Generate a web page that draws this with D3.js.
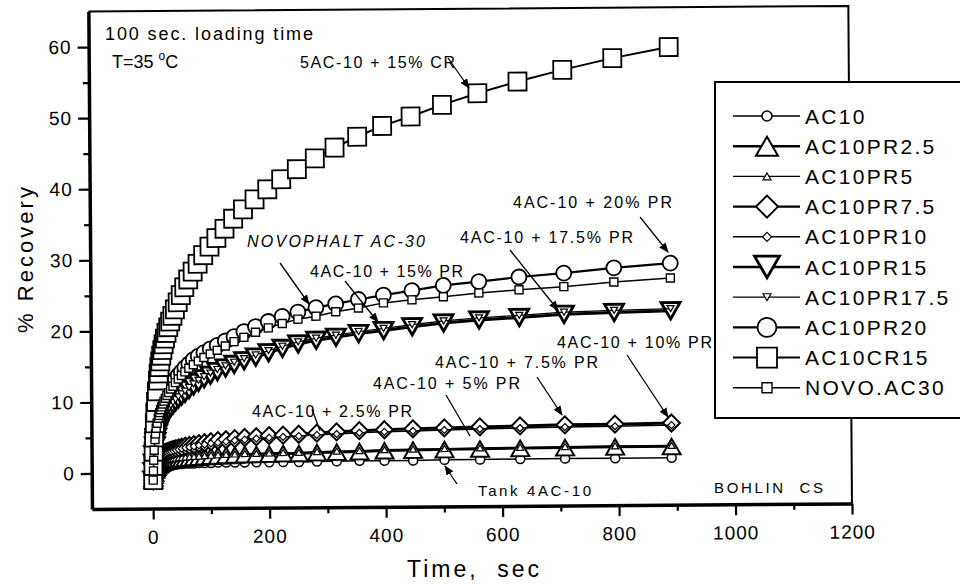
<!DOCTYPE html>
<html>
<head>
<meta charset="utf-8">
<script src="https://cdn.jsdelivr.net/npm/d3@7"></script>
<style>
  body { margin: 0; background: #fff; }
  svg { font-family: "Liberation Sans", Arial, sans-serif; }
</style>
</head>
<body>
<div id="chart"></div>
<script>

// recovery time, sec (log spaced readings)
const times = [0.5, 1, 1.6, 2.5, 4, 5, 6.3, 7.9,
  10, 11.2, 12.6, 14.1, 15.8, 17.8, 20, 22.4, 25.1, 28.2,
  31.6, 35.5, 39.8, 44.7, 50.1, 56.2, 63.1, 70.8, 79.4, 89.1,
  100, 112, 126, 141, 158, 178, 200, 224, 251, 282,
  316, 355, 398, 447, 501, 562, 631, 708, 794, 891]

// % recovery per binder
const ac10 = [-1.0, -0.8, -0.5, -0.2, 0.1, 0.3, 0.45, 0.6,
  0.7, 0.75, 0.8, 0.85, 0.9, 0.95, 1.0, 1.05, 1.1, 1.1,
  1.15, 1.2, 1.2, 1.25, 1.25, 1.3, 1.3, 1.3, 1.35, 1.35,
  1.35, 1.4, 1.4, 1.4, 1.4, 1.4, 1.4, 1.4, 1.4, 1.45,
  1.45, 1.5, 1.5, 1.5, 1.55, 1.55, 1.6, 1.6, 1.6, 1.6]
const ac10pr25 = [-1.0, -0.7, -0.3, 0.0, 0.4, 0.6, 0.8, 1.0,
  1.15, 1.25, 1.35, 1.4, 1.5, 1.55, 1.6, 1.65, 1.7, 1.75,
  1.8, 1.85, 1.9, 1.95, 2.0, 2.05, 2.1, 2.15, 2.2, 2.25,
  2.3, 2.35, 2.4, 2.45, 2.5, 2.5, 2.55, 2.6, 2.6, 2.7,
  2.75, 2.8, 2.9, 2.95, 3.0, 3.05, 3.1, 3.15, 3.2, 3.2]
const ac10pr5 = [-1.0, -0.6, -0.2, 0.15, 0.55, 0.75, 0.95, 1.15,
  1.3, 1.4, 1.5, 1.55, 1.65, 1.7, 1.75, 1.8, 1.85, 1.9,
  1.95, 2.0, 2.05, 2.1, 2.15, 2.2, 2.25, 2.3, 2.35, 2.4,
  2.45, 2.5, 2.55, 2.6, 2.65, 2.65, 2.7, 2.75, 2.75, 2.85,
  2.9, 2.95, 3.05, 3.1, 3.15, 3.2, 3.25, 3.3, 3.35, 3.35]
const ac10pr75 = [-1.0, -0.5, 0.0, 0.5, 1.0, 1.3, 1.6, 1.9,
  2.1, 2.25, 2.4, 2.5, 2.6, 2.7, 2.8, 2.9, 3.0, 3.1,
  3.2, 3.3, 3.4, 3.5, 3.6, 3.75, 3.85, 3.95, 4.1, 4.2,
  4.35, 4.5, 4.6, 4.75, 4.9, 5.0, 5.15, 5.2, 5.3, 5.45,
  5.6, 5.75, 5.85, 5.95, 6.05, 6.15, 6.25, 6.35, 6.4, 6.5]
const ac10pr10 = [-1.0, -0.6, -0.1, 0.4, 0.9, 1.2, 1.5, 1.8,
  2.0, 2.1, 2.25, 2.35, 2.45, 2.55, 2.65, 2.75, 2.85, 2.95,
  3.0, 3.1, 3.2, 3.3, 3.4, 3.5, 3.6, 3.7, 3.85, 3.95,
  4.1, 4.2, 4.35, 4.5, 4.6, 4.75, 4.85, 4.95, 5.05, 5.2,
  5.3, 5.45, 5.55, 5.65, 5.75, 5.85, 5.95, 6.05, 6.1, 6.2]
const ac10pr15 = [-1.0, 0.2, 1.4, 2.6, 3.8, 4.4, 5.0, 5.6,
  6.1, 6.4, 6.7, 7.0, 7.3, 7.6, 7.9, 8.2, 8.5, 8.8,
  9.2, 9.6, 10.0, 10.4, 10.8, 11.2, 11.7, 12.2, 12.7, 13.2,
  13.7, 14.2, 14.7, 15.2, 15.7, 16.2, 16.8, 17.4, 18.0, 18.5,
  18.9, 19.4, 19.8, 20.3, 20.8, 21.2, 21.5, 21.9, 22.1, 22.3]
const ac10pr175 = [-1.0, 0.4, 1.6, 2.8, 4.0, 4.7, 5.3, 5.9,
  6.4, 6.7, 7.0, 7.3, 7.6, 7.9, 8.2, 8.5, 8.8, 9.1,
  9.5, 9.9, 10.3, 10.7, 11.1, 11.5, 12.0, 12.5, 13.0, 13.5,
  14.0, 14.5, 15.0, 15.5, 16.0, 16.5, 17.1, 17.7, 18.3, 18.8,
  19.2, 19.7, 20.1, 20.6, 21.1, 21.5, 21.8, 22.2, 22.4, 22.6]
const ac10pr20 = [-1.0, 0.5, 2.0, 3.5, 5.0, 5.8, 6.6, 7.4,
  8.1, 8.5, 8.9, 9.3, 9.7, 10.1, 10.5, 10.9, 11.3, 11.7,
  12.2, 12.7, 13.2, 13.7, 14.2, 14.8, 15.3, 15.9, 16.4, 16.9,
  17.4, 17.9, 18.5, 19.1, 19.8, 20.5, 21.2, 21.9, 22.5, 23.1,
  23.6, 24.2, 24.8, 25.4, 26.1, 26.6, 27.2, 27.7, 28.4, 29.0]
const ac10cr15 = [-1.0, 1.0, 3.0, 5.0, 7.0, 8.5, 10.0, 11.5,
  13.0, 14.0, 14.9, 15.7, 16.5, 17.3, 18.1, 18.9, 19.7, 20.5,
  21.3, 22.1, 23.0, 24.0, 25.0, 26.1, 27.2, 28.3, 29.4, 30.6,
  31.8, 33.0, 34.3, 35.7, 37.0, 38.4, 39.8, 41.2, 42.6, 44.1,
  45.6, 47.1, 48.6, 49.9, 51.5, 53.1, 54.7, 56.3, 57.9, 59.4]
const novoAc30 = [-1.0, 0.3, 1.8, 3.2, 4.7, 5.5, 6.3, 7.0,
  7.7, 8.1, 8.5, 8.9, 9.3, 9.7, 10.1, 10.5, 10.9, 11.3,
  11.8, 12.2, 12.7, 13.2, 13.7, 14.2, 14.7, 15.2, 15.7, 16.2,
  16.7, 17.2, 17.8, 18.4, 19.0, 19.7, 20.3, 20.9, 21.5, 21.9,
  22.5, 23.0, 23.7, 24.1, 24.5, 25.0, 25.4, 25.8, 26.4, 26.9]

const seriesNames = ["AC10", "AC10PR2.5", "AC10PR5", "AC10PR7.5", "AC10PR10",
  "AC10PR15", "AC10PR17.5", "AC10PR20", "AC10CR15", "NOVO.AC30"]
const seriesValues = [ac10, ac10pr25, ac10pr5, ac10pr75, ac10pr10,
  ac10pr15, ac10pr175, ac10pr20, ac10cr15, novoAc30]

const xTicks = [0, 200, 400, 600, 800, 1000, 1200]
const xMinor = [100, 300, 500, 700, 900, 1100]
const yTicks = [0, 10, 20, 30, 40, 50, 60]
const yMinor = [5, 15, 25, 35, 45, 55]

// symbol look for each series (same order as seriesNames)
const looks = [
  {shape: 'circle', size: 4.5, leg: 5, lw: 1.5, sw: 1.5},
  {shape: 'triUp', size: 9, leg: 11, lw: 2.6, sw: 2},
  {shape: 'triUp', size: 3.5, leg: 4, lw: 1.2, sw: 1.2},
  {shape: 'diamond', size: 8.5, leg: 11, lw: 3, sw: 2},
  {shape: 'diamond', size: 3.5, leg: 4.5, lw: 1.4, sw: 1.2},
  {shape: 'triDown', size: 9.5, leg: 12.5, lw: 3, sw: 2.8},
  {shape: 'triDown', size: 3.5, leg: 4, lw: 1.2, sw: 1.2},
  {shape: 'circle', size: 7.5, leg: 9.5, lw: 2.2, sw: 1.8},
  {shape: 'square', size: 9, leg: 10, lw: 2, sw: 1.8},
  {shape: 'square', size: 4, leg: 5, lw: 1.5, sw: 1.4}
]

function symbolPath(shape, s) {
  const h = s * 0.866
  if (shape == 'circle') return `M${-s},0a${s},${s} 0 1,0 ${2*s},0a${s},${s} 0 1,0 ${-2*s},0z`
  if (shape == 'square') return `M${-s},${-s}h${2*s}v${2*s}h${-2*s}z`
  if (shape == 'diamond') return `M0,${-s}L${s},0L0,${s}L${-s},0z`
  if (shape == 'triUp') return `M0,${-h}L${s},${h}L${-s},${h}z`
  return `M0,${h}L${s},${-h}L${-s},${-h}z`
}

const svg = d3.select('#chart')
  .append('svg')
  .attr('width', 960)
  .attr('height', 584)

svg.append('defs').append('marker')
  .attr('id', 'arr')
  .attr('markerUnits', 'userSpaceOnUse')
  .attr('markerWidth', 10).attr('markerHeight', 8)
  .attr('refX', 9).attr('refY', 4)
  .attr('orient', 'auto')
  .append('path')
  .attr('d', 'M0,0 L10,4 L0,8 z')
  .attr('fill', '#000')

// the scan is slightly tilted, so the plot group is too
const plot = svg.append('g')
  .attr('transform', 'rotate(-0.42,92,509)')

const x = d3.scaleLinear().domain([-105, 1200]).range([92, 852])
const y = d3.scaleLinear().domain([-5, 65]).range([509, 11.5])

// top and right frame
plot.append('path')
  .attr('d', `M92,11.5 H852 V509`)
  .attr('fill', 'none').attr('stroke', '#000').attr('stroke-width', 2)

const xAxis = plot.append('g')
  .attr('transform', 'translate(0,509)')
  .call(d3.axisBottom(x).tickValues(xTicks).tickFormat(d3.format('d'))
    .tickSize(11).tickSizeOuter(0).tickPadding(6))
plot.append('g')
  .attr('transform', 'translate(0,509)')
  .call(d3.axisBottom(x).tickValues(xMinor).tickSize(6).tickFormat(''))
  .select('.domain').remove()

const yAxis = plot.append('g')
  .attr('transform', 'translate(92,0)')
  .call(d3.axisLeft(y).tickValues(yTicks).tickFormat(d3.format('d'))
    .tickSize(11).tickSizeOuter(0).tickPadding(6))
plot.append('g')
  .attr('transform', 'translate(92,0)')
  .call(d3.axisLeft(y).tickValues(yMinor).tickSize(6).tickFormat(''))
  .select('.domain').remove()

plot.selectAll('.domain').attr('stroke-width', 3.5).attr('stroke', '#000')
plot.selectAll('.tick line').attr('stroke-width', 2.2).attr('stroke', '#000')
plot.selectAll('.tick text')
  .attr('font-size', 19)
  .attr('font-family', '"Liberation Sans", Arial, sans-serif')
  .attr('fill', '#000')
  .style('letter-spacing', '1px')
xAxis.selectAll('.tick text').attr('dy', '0.95em')

// series: line first, then its symbols
const line = d3.line()
  .x((d, i) => x(times[i]))
  .y(d => y(d))

seriesValues.forEach((vals, k) => {
  const look = looks[k]
  const g = plot.append('g').attr('class', 'series')
  g.append('path')
    .attr('d', line(vals))
    .attr('fill', 'none')
    .attr('stroke', '#000')
    .attr('stroke-width', look.lw)
    .attr('stroke-linejoin', 'round')
  g.selectAll('path.sym')
    .data(vals)
    .enter()
    .append('path')
    .attr('class', 'sym')
    .attr('transform', (d, i) => `translate(${x(times[i])},${y(d)})`)
    .attr('d', symbolPath(look.shape, look.size))
    .attr('fill', '#fff')
    .attr('stroke', '#000')
    .attr('stroke-width', look.sw)
})

// axis titles
svg.append('text')
  .attr('transform', 'translate(33,260) rotate(-90)')
  .attr('text-anchor', 'middle')
  .attr('font-size', 22)
  .attr('textLength', 146).attr('lengthAdjust', 'spacing')
  .text('% Recovery')

svg.append('text')
  .attr('x', 407).attr('y', 577)
  .attr('font-size', 23)
  .attr('textLength', 132).attr('lengthAdjust', 'spacing')
  .style('white-space', 'pre')
  .text('Time,  sec')

// notes on the plot
const notes = [
  {text: '100 sec. loading time', x: 105, y: 40, len: 208, size: 18},
  {text: '5AC-10 + 15% CR', x: 300, y: 68, len: 155, size: 16},
  {text: 'NOVOPHALT AC-30', x: 247, y: 247, len: 178, size: 16, italic: true},
  {text: '4AC-10 + 15% PR', x: 310, y: 277, len: 153, size: 16},
  {text: '4AC-10 + 20% PR', x: 513, y: 208, len: 159, size: 16},
  {text: '4AC-10 + 17.5% PR', x: 460, y: 243, len: 173, size: 16},
  {text: '4AC-10 + 10% PR', x: 557, y: 348, len: 155, size: 16},
  {text: '4AC-10 + 7.5% PR', x: 435, y: 368, len: 163, size: 16},
  {text: '4AC-10 + 5% PR', x: 373, y: 389, len: 147, size: 16},
  {text: '4AC-10 + 2.5% PR', x: 252, y: 417, len: 160, size: 16},
  {text: 'Tank 4AC-10', x: 478, y: 496, len: 113, size: 15},
  {text: 'BOHLIN  CS', x: 714, y: 493, len: 109, size: 15}
]

svg.selectAll('text.note')
  .data(notes)
  .enter()
  .append('text')
  .attr('class', 'note')
  .attr('x', d => d.x).attr('y', d => d.y)
  .attr('font-size', d => d.size)
  .attr('font-style', d => d.italic ? 'italic' : 'normal')
  .attr('textLength', d => d.len).attr('lengthAdjust', 'spacing')
  .style('white-space', 'pre')
  .text(d => d.text)

const temp = svg.append('text')
  .attr('x', 112).attr('y', 68)
  .attr('font-size', 18)
temp.append('tspan').text('T=35 ')
temp.append('tspan').attr('font-size', 12).attr('dy', -8).text('o')
temp.append('tspan').attr('dy', 8).text('C')

const pointers = [
  {x1: 448, y1: 58, x2: 469, y2: 88, head: true},
  {x1: 280, y1: 263, x2: 309, y2: 304, head: true},
  {x1: 345, y1: 281, x2: 378, y2: 322, head: true},
  {x1: 640, y1: 217, x2: 668, y2: 252, head: true},
  {x1: 510, y1: 250, x2: 558, y2: 310, head: true},
  {x1: 627, y1: 355, x2: 668, y2: 417, head: true},
  {x1: 537, y1: 377, x2: 562, y2: 415, head: true},
  {x1: 446, y1: 395, x2: 470, y2: 436, head: false},
  {x1: 312, y1: 409, x2: 320, y2: 431, head: false},
  {x1: 457, y1: 484, x2: 445, y2: 466, head: true}
]

svg.selectAll('line.pointer')
  .data(pointers)
  .enter()
  .append('line')
  .attr('class', 'pointer')
  .attr('x1', d => d.x1).attr('y1', d => d.y1)
  .attr('x2', d => d.x2).attr('y2', d => d.y2)
  .attr('stroke', '#000').attr('stroke-width', 1.3)
  .attr('marker-end', d => d.head ? 'url(#arr)' : null)

// legend box sits over the right part of the plot
const legend = svg.append('g')
legend.append('rect')
  .attr('x', 715).attr('y', 82)
  .attr('width', 260).attr('height', 336)
  .attr('fill', '#fff').attr('stroke', '#000').attr('stroke-width', 2)

const legendRows = legend.selectAll('g.row')
  .data(seriesNames)
  .enter()
  .append('g')
  .attr('class', 'row')
  .attr('transform', (d, i) => `translate(0,${116 + i * 30.2})`)

legendRows.append('line')
  .attr('x1', 733).attr('x2', 800)
  .attr('stroke', '#000')
  .attr('stroke-width', (d, i) => Math.min(looks[i].lw, 2.4))

legendRows.append('path')
  .attr('transform', 'translate(767,0)')
  .attr('d', (d, i) => symbolPath(looks[i].shape, looks[i].leg))
  .attr('fill', '#fff')
  .attr('stroke', '#000')
  .attr('stroke-width', (d, i) => looks[i].sw)

legendRows.append('text')
  .attr('x', 805).attr('y', 7.5)
  .attr('font-size', 21)
  .style('letter-spacing', '2.3px')
  .text(d => d)

</script>
</body>
</html>
